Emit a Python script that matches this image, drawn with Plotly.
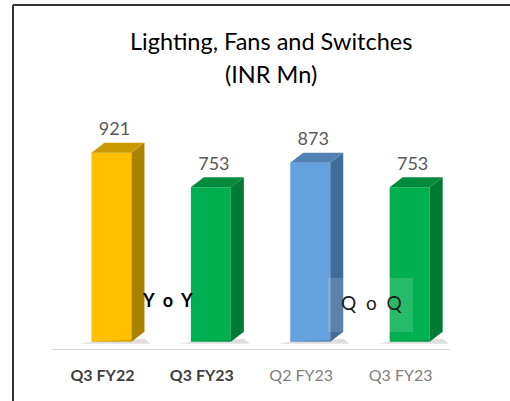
import plotly.graph_objects as go

# data
periods = ["Q3 FY22", "Q3 FY23", "Q2 FY23", "Q3 FY23"]
values = [921, 753, 873, 753]
front_colors = ["#FFC000", "#00B050", "#66A2DE", "#00B050"]
side_colors = ["#A98200", "#007A36", "#406C9C", "#007A36"]
top_colors = ["#C99A00", "#008A3E", "#5080B4", "#008A3E"]
tick_styles = ["<b>{}</b>", "<b>{}</b>", "{}", "{}"]
tick_colors = ["#3F3F3F", "#3F3F3F", "#7F7F7F", "#7F7F7F"]

#### figure geometry (pixels) ####
W, H = 510, 401
L, R, T, B = 13, 0, 100, 51
PW, PH = W - L - R, H - T - B
X0, X1 = -0.9, 4.1
Y0 = -40
YSCALE = 0.2052                      # px per INR Mn
Y1 = Y0 + PH / YSCALE
XSCALE = PW / (X1 - X0)

def px_x(px):
    return X0 + (px - L) / XSCALE

def px_y(py):
    return Y0 + (H - B - py) / YSCALE

# 3d look: bar offset, half width, depth
shift = 9 / XSCALE
hw = 20 / XSCALE
dx = 13 / XSCALE
dy = 10 / YSCALE

fig = go.Figure()

# shadows on the floor
for i, v in enumerate(values):
    xl, xr = i + shift - hw, i + shift + hw
    fig.add_trace(go.Scatter(
        x=[xl - 0.12, xr + dx + 0.06, xr + dx, xl],
        y=[-10, -10, dy * 0.3, 0],
        fill="toself", fillcolor="rgba(0,0,0,0.13)",
        line=dict(width=0), mode="lines", hoverinfo="skip", showlegend=False))

# front faces
fig.add_trace(go.Bar(
    x=[i + shift for i in range(len(values))], y=values, width=2 * hw,
    marker=dict(color=front_colors, line=dict(width=0)),
    hoverinfo="skip", showlegend=False))

# side and top faces
for i, v in enumerate(values):
    xl, xr = i + shift - hw, i + shift + hw
    fig.add_trace(go.Scatter(
        x=[xr, xr + dx, xr + dx, xr], y=[0, dy, v + dy, v],
        fill="toself", fillcolor=side_colors[i],
        line=dict(width=0), mode="lines", hoverinfo="skip", showlegend=False))
    fig.add_trace(go.Scatter(
        x=[xl, xl + dx, xr + dx, xr], y=[v, v + dy, v + dy, v],
        fill="toself", fillcolor=top_colors[i],
        line=dict(width=0), mode="lines", hoverinfo="skip", showlegend=False))

# value labels
fig.add_trace(go.Scatter(
    x=[i + shift + 3 / XSCALE for i in range(len(values))],
    y=[v + dy + 3 / YSCALE for v in values],
    text=[str(v) for v in values], mode="text", textposition="top center",
    textfont=dict(family="Lato", size=18, color="#595959"),
    cliponaxis=False, hoverinfo="skip", showlegend=False))

ticktext = ["<span style='color:{}'>{}</span>".format(c, s.format(p))
            for p, s, c in zip(periods, tick_styles, tick_colors)]

fig.update_layout(
    width=W, height=H,
    margin=dict(l=L, r=R, t=T, b=B),
    paper_bgcolor="white", plot_bgcolor="white",
    xaxis=dict(range=[X0, X1], tickvals=list(range(len(periods))), ticktext=ticktext,
               showgrid=False, zeroline=False, showline=False,
               ticks="outside", ticklen=11, tickcolor="rgba(0,0,0,0)",
               tickfont=dict(family="Lato", size=16)),
    yaxis=dict(range=[Y0, Y1], visible=False),
    shapes=[
        # floor line
        dict(type="line", xref="x", yref="y", x0=px_x(52), x1=px_x(450),
             y0=px_y(350), y1=px_y(350), line=dict(color="#D9D9D9", width=2)),
        # text box over QoQ
        dict(type="rect", xref="x", yref="y", x0=px_x(328), x1=px_x(413),
             y0=px_y(332), y1=px_y(278), fillcolor="rgba(255,255,255,0.15)",
             line=dict(width=0)),
        # frame: top and left edges only
        dict(type="line", xref="paper", yref="paper", x0=0, x1=1,
             y0=(H - B - 5) / PH, y1=(H - B - 5) / PH, line=dict(color="#333333", width=2)),
        dict(type="line", xref="paper", yref="paper", x0=0, x1=0,
             y0=-B / PH, y1=(H - B - 5) / PH, line=dict(color="#333333", width=2)),
    ],
    annotations=[
        dict(text="Lighting, Fans and Switches", xref="paper", yref="paper",
             x=(271 - L) / PW, y=(H - B - 41) / PH, showarrow=False,
             xanchor="center", yanchor="middle",
             font=dict(family="Lato", size=23.5, color="black")),
        dict(text="(INR Mn)", xref="paper", yref="paper",
             x=(271 - L) / PW, y=(H - B - 74) / PH, showarrow=False,
             xanchor="center", yanchor="middle",
             font=dict(family="Lato", size=23.5, color="black")),
        dict(text="<b>Y&nbsp;&nbsp;o&nbsp;&nbsp;Y</b>", xref="x", yref="y",
             x=px_x(167), y=px_y(300), showarrow=False,
             font=dict(family="Lato", size=18, color="black")),
        dict(text="Q&nbsp;&nbsp;o&nbsp;&nbsp;Q", xref="x", yref="y",
             x=px_x(371), y=px_y(302), showarrow=False,
             font=dict(family="Lato", size=19, color="#1A1A1A")),
    ],
)

# page has a default body margin and may scroll; pin the figure to the window's corner
fig.write_html(
    "out.html",
    config={"displayModeBar": False},
    post_script="document.body.style.margin='0';"
                "document.body.style.overflow='hidden';"
                "document.documentElement.style.overflow='hidden';",
)
